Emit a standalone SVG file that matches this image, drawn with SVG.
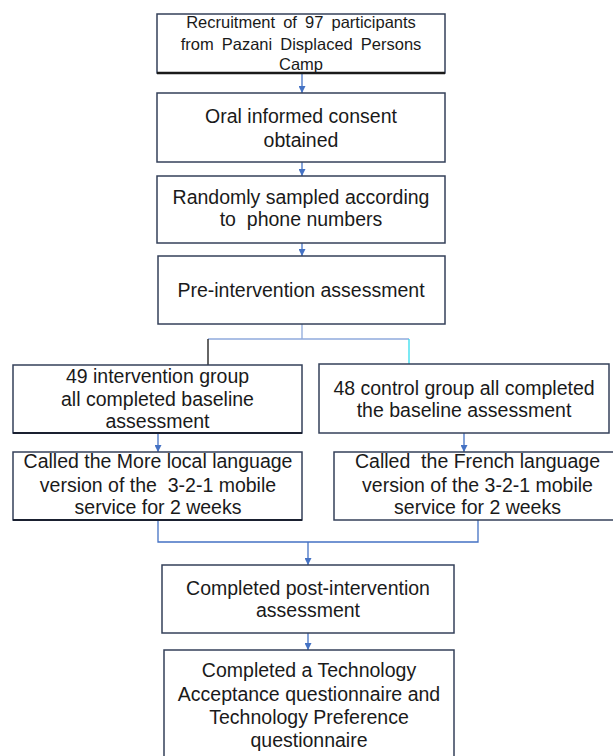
<svg xmlns="http://www.w3.org/2000/svg" width="613" height="756" viewBox="0 0 613 756">
<defs>
<style>
.box{fill:#ffffff;stroke:#34405a;stroke-width:1.5}
.t{font-family:"Liberation Sans",Arial,sans-serif;font-size:19.5px;fill:#1a1a1a;text-anchor:middle}
.t1{font-size:16.5px;word-spacing:3.5px}
.c{fill:none;stroke:#4472c4;stroke-width:1.3}
.shadow{stroke:#1a1a1a;stroke-width:2.5}
</style>
<marker id="ah" viewBox="0 0 10 10" refX="10" refY="5" markerWidth="7" markerHeight="7" markerUnits="userSpaceOnUse" orient="auto">
<path d="M0,0 L10,5 L0,10 z" fill="#4472c4"/>
</marker>
</defs>
<rect width="613" height="756" fill="#ffffff"/>

<g id="connectors">
<line class="c" x1="302" y1="73" x2="302" y2="93" marker-end="url(#ah)"/>
<line class="c" x1="302" y1="162" x2="302" y2="176" marker-end="url(#ah)"/>
<line class="c" x1="302" y1="243" x2="302" y2="256" marker-end="url(#ah)"/>
<polyline class="c" points="302,324 302,339" style="stroke:#8faadc"/>
<line x1="208" y1="339" x2="409" y2="339" stroke="#8faadc" stroke-width="1.3"/>
<line x1="208" y1="339" x2="208" y2="365" stroke="#333333" stroke-width="1.5"/>
<line x1="409" y1="339" x2="409" y2="364" stroke="#33ddee" stroke-width="1.3"/>
<line class="c" x1="158" y1="433" x2="158" y2="452" marker-end="url(#ah)"/>
<line class="c" x1="464" y1="433" x2="464" y2="452" marker-end="url(#ah)"/>
<polyline class="c" points="158,520 158,542 478,542 478,520"/>
<line class="c" x1="308" y1="542" x2="308" y2="565" marker-end="url(#ah)"/>
<line class="c" x1="308" y1="633" x2="308" y2="650" marker-end="url(#ah)"/>
</g>

<g id="recruitment">
<rect class="box" x="157" y="14" width="288" height="59"/>
<line class="shadow" x1="157" y1="73" x2="445" y2="73"/>
<text class="t t1" x="301" y="28">Recruitment of 97 participants</text>
<text class="t t1" x="301" y="50">from Pazani Displaced Persons</text>
<text class="t t1" x="301" y="70">Camp</text>
</g>

<g id="consent">
<rect class="box" x="157" y="93" width="288" height="69"/>
<text class="t" x="301" y="123">Oral informed consent</text>
<text class="t" x="301" y="147">obtained</text>
</g>

<g id="sampled">
<rect class="box" x="157" y="176" width="288" height="67"/>
<text class="t" x="301" y="204">Randomly sampled according</text>
<text class="t" x="301" y="226" xml:space="preserve">to  phone numbers</text>
</g>

<g id="pre">
<rect class="box" x="158" y="256" width="287" height="68"/>
<text class="t" x="301" y="297">Pre-intervention assessment</text>
</g>

<g id="intervention">
<rect class="box" x="13" y="365" width="289" height="68"/>
<line x1="13" y1="433" x2="302" y2="433" stroke="#1a2030" stroke-width="2"/>
<text class="t" x="157.5" y="383">49 intervention group</text>
<text class="t" x="157.5" y="406">all completed baseline</text>
<text class="t" x="157.5" y="428">assessment</text>
</g>

<g id="control">
<rect class="box" x="319" y="364" width="290" height="69"/>
<text class="t" x="464" y="395">48 control group all completed</text>
<text class="t" x="464" y="417">the baseline assessment</text>
</g>

<g id="more">
<rect class="box" x="13" y="452" width="289" height="68"/>
<line x1="13" y1="520" x2="302" y2="520" stroke="#1a2030" stroke-width="2"/>
<text class="t" x="158" y="468">Called the More local language</text>
<text class="t" x="158" y="492" xml:space="preserve">version of the  3-2-1 mobile</text>
<text class="t" x="158" y="514">service for 2 weeks</text>
</g>

<g id="french">
<rect class="box" x="334" y="452" width="287" height="68"/>
<text class="t" x="477.5" y="468" xml:space="preserve">Called  the French language</text>
<text class="t" x="477.5" y="492">version of the 3-2-1 mobile</text>
<text class="t" x="477.5" y="514">service for 2 weeks</text>
</g>

<g id="post">
<rect class="box" x="162" y="565" width="292" height="68"/>
<text class="t" x="308" y="595">Completed post-intervention</text>
<text class="t" x="308" y="617">assessment</text>
</g>

<g id="tam">
<rect class="box" x="164" y="650" width="290" height="110"/>
<text class="t" x="309" y="677">Completed a Technology</text>
<text class="t" x="309" y="701">Acceptance questionnaire and</text>
<text class="t" x="309" y="724">Technology Preference</text>
<text class="t" x="309" y="747">questionnaire</text>
</g>
</svg>
